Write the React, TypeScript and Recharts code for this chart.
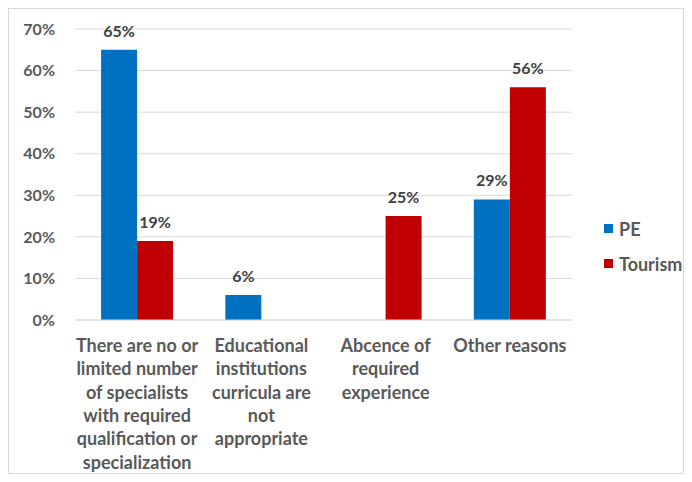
import React from "react";
import { BarChart, Bar, XAxis, YAxis, CartesianGrid, Legend, LabelList } from "recharts";

const categories = [
  "There are no or\nlimited number\nof specialists\nwith required\nqualification or\nspecialization",
  "Educational\ninstitutions\ncurricula are\nnot\nappropriate",
  "Abcence of\nrequired\nexperience",
  "Other reasons",
];
const peValues: (number | null)[] = [65, 6, null, 29];
const tourismValues: (number | null)[] = [19, null, 25, 56];
const yTicks = [0, 10, 20, 30, 40, 50, 60, 70];

const series = [
  { key: "pe", name: "PE", color: "#0070C0" },
  { key: "tourism", name: "Tourism", color: "#C00000" },
];

const data = categories.map((name, i) => ({
  name,
  pe: peValues[i],
  tourism: tourismValues[i],
}));

const FONT = "Lato, 'Open Sans', sans-serif";

const CategoryTick = (props: any) => {
  const { x, y, payload } = props;
  const lines: string[] = String(payload.value).split("\n");
  return (
    <text
      x={x}
      y={y}
      textAnchor="middle"
      fill="#595959"
      fontSize={18}
      fontWeight={700}
      fontFamily={FONT}
    >
      {lines.map((line, i) => (
        <tspan key={i} x={x} dy={i === 0 ? 24 : 23.3}>
          {line}
        </tspan>
      ))}
    </text>
  );
};

const LegendContent = () => (
  <div style={{ fontFamily: FONT, fontSize: 18, fontWeight: 700, color: "#595959" }}>
    {series.map((s) => (
      <div key={s.key} style={{ display: "flex", alignItems: "center", height: 35 }}>
        <span style={{ width: 9, height: 9, background: s.color, marginRight: 6 }} />
        {s.name}
      </div>
    ))}
  </div>
);

const pct = (v: any) => (v == null ? "" : `${v}%`);

export default function App() {
  return (
    <div style={{ width: 674, height: 464, border: "1px solid #d9d9d9", background: "#fff" }}>
      <BarChart
        width={674}
        height={464}
        data={data}
        margin={{ top: 20, right: 27, left: 0, bottom: 0 }}
        barGap={0}
        barCategoryGap="21%"
      >
        <CartesianGrid vertical={false} stroke="#d9d9d9" />
        <XAxis
          dataKey="name"
          height={153}
          interval={0}
          tick={<CategoryTick />}
          tickLine={false}
          axisLine={{ stroke: "#d9d9d9" }}
        />
        <YAxis
          width={66}
          domain={[0, 70]}
          ticks={yTicks}
          tickFormatter={(v) => `${v}%`}
          axisLine={false}
          tickLine={false}
          tickMargin={14}
          tick={{ fill: "#595959", fontSize: 16, fontWeight: 700, fontFamily: FONT }}
        />
        <Legend
          content={<LegendContent />}
          layout="vertical"
          align="right"
          verticalAlign="middle"
          wrapperStyle={{ position: "absolute", left: 595, top: 202, width: 84 }}
        />
        {series.map((s) => (
          <Bar key={s.key} dataKey={s.key} name={s.name} fill={s.color} isAnimationActive={false}>
            <LabelList
              dataKey={s.key}
              position="top"
              offset={13}
              formatter={pct}
              fill="#404040"
              fontSize={16}
              fontWeight={700}
              fontFamily={FONT}
            />
          </Bar>
        ))}
      </BarChart>
    </div>
  );
}
